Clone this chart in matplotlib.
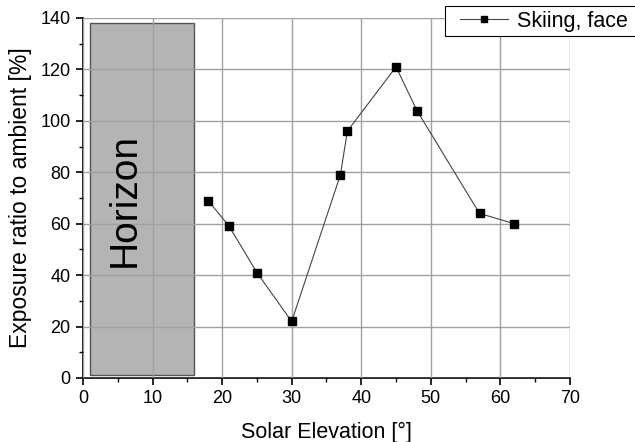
import matplotlib
matplotlib.use("Agg")
import matplotlib.pyplot as plt
from matplotlib.patches import Rectangle
from matplotlib.ticker import MultipleLocator

# Data
elevation = [18, 21, 25, 30, 37, 38, 45, 48, 57, 62]
exposure = [69, 59, 41, 22, 79, 96, 121, 104, 64, 60]
series_label = 'Skiing, face'
horizon_x = (1, 16)
horizon_y = (1, 138)

plt.rcParams['font.family'] = ['Liberation Sans', 'DejaVu Sans']

W, H = 635, 442
fig = plt.figure(figsize=(W / 100, H / 100), dpi=100)
ax = fig.add_axes([0.1307, 0.1448, 0.7669, 0.8145])

# Shaded "horizon" block, grid drawn over it
ax.add_patch(Rectangle((horizon_x[0], horizon_y[0]), horizon_x[1] - horizon_x[0],
                       horizon_y[1] - horizon_y[0], facecolor='#b4b4b4',
                       edgecolor='#555555', linewidth=1.0, zorder=0.5))
ax.text(6.0, 69.4, 'Horizon', rotation=90, ha='center', va='center',
        fontsize=28, color='black')

ax.plot(elevation, exposure, '-', color='#444444', linewidth=0.8,
        marker='s', markersize=6, markerfacecolor='black',
        markeredgecolor='black', label=series_label, zorder=3)

ax.set_xlim(0, 70)
ax.set_ylim(0, 140)
ax.xaxis.set_major_locator(MultipleLocator(10))
ax.xaxis.set_minor_locator(MultipleLocator(5))
ax.yaxis.set_major_locator(MultipleLocator(20))
ax.yaxis.set_minor_locator(MultipleLocator(10))
ax.grid(True, which='major', color='#a0a0a0', linewidth=1.0, zorder=1)
ax.set_axisbelow(False)

for side in ['top', 'right']:
    ax.spines[side].set_visible(False)
ax.spines['left'].set_linewidth(1.2)
ax.spines['bottom'].set_linewidth(1.2)
ax.tick_params(which='major', direction='out', length=5, width=1.2,
               labelsize=13, pad=4)
ax.tick_params(which='minor', direction='out', length=3, width=1.0)

ax.set_xlabel('Solar Elevation [°]', fontsize=15.5, labelpad=10)
ax.set_ylabel('Exposure ratio to ambient [%]', fontsize=16.5, labelpad=6)

# Legend box runs off the right edge of the figure, as in the original
fig.patches.append(Rectangle((445 / W, 1 - 36 / H), 200 / W, 30 / H,
                             transform=fig.transFigure, facecolor='white',
                             edgecolor='black', linewidth=0.8, zorder=4))
leg = fig.legend(*ax.get_legend_handles_labels(), loc='center left',
                 bbox_to_anchor=(460 / W, 1 - 21 / H), fontsize=15.5,
                 frameon=False, handlelength=2.23, handletextpad=0.42,
                 borderpad=0, borderaxespad=0, markerscale=0.8)
leg.set_zorder(5)

fig.savefig('out.png', dpi=100)
